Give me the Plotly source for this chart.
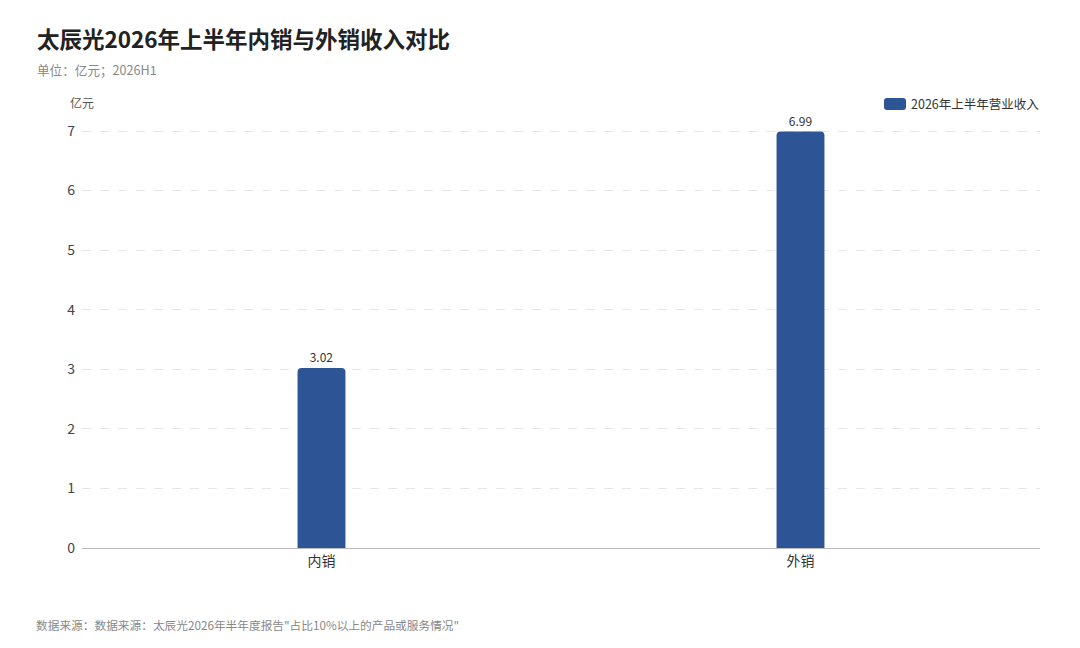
import plotly.graph_objects as go

categories = ["内销", "外销"]
revenue = [3.02, 6.99]
series_name = "2026年上半年营业收入"
y_ticks = [0, 1, 2, 3, 4, 5, 6, 7]

FONT = "Noto Sans CJK SC"
BAR_COLOR = "#2D5596"
GRID = "#e6e6e6"

# the page puts the figure 8px in from the top-left corner
PW, PH = 958, 417  # plot area in px

fig = go.Figure()
fig.add_trace(go.Bar(
    x=categories,
    y=revenue,
    name=series_name,
    marker=dict(color=BAR_COLOR, line=dict(width=0)),
    text=[f"{v:.2f}" for v in revenue],
    textposition="outside",
    textfont=dict(size=12, color="#333333"),
    cliponaxis=False,
    showlegend=False,
))

fig.update_layout(
    width=1080, height=648,
    margin=dict(l=74, r=48, t=123, b=108),
    paper_bgcolor="white", plot_bgcolor="white",
    font=dict(family=FONT, color="#333333"),
    bargap=0.9,
    barcornerradius=4,
    title=dict(
        text="<b>太辰光2026年上半年内销与外销收入对比</b>",
        x=29 / 1080, xanchor="left", y=1 - 32 / 648, yanchor="middle",
        font=dict(size=22.5, color="#222222", family=FONT),
    ),
)

fig.update_yaxes(
    range=[0, 7], tickvals=y_ticks,
    showgrid=True, gridcolor=GRID, griddash="dash", gridwidth=1,
    zeroline=False, showline=False,
    tickfont=dict(size=14, color="#444444"),
    ticks="", ticklabelstandoff=6,
)
fig.update_xaxes(
    showline=True, linecolor="#bbbbbb", linewidth=1,
    tickfont=dict(size=14, color="#333333"),
    ticks="",
)

# top gridline sits on the plot edge and gets clipped, so draw it on paper
fig.add_shape(type="line", xref="paper", yref="paper", x0=0, x1=1,
              y0=1 - 0.5 / PH, y1=1 - 0.5 / PH, layer="below",
              line=dict(color=GRID, width=1, dash="dash"))

# legend drawn by hand: wide rounded swatch + label
lx0, lx1 = (884 - 82) / PW, (906 - 82) / PW
ly0, ly1 = 1 + 21 / PH, 1 + 33 / PH
r = 3 / PW
ry = 3 / PH
path = (f"M {lx0 + r},{ly0} L {lx1 - r},{ly0} Q {lx1},{ly0} {lx1},{ly0 + ry} "
        f"L {lx1},{ly1 - ry} Q {lx1},{ly1} {lx1 - r},{ly1} "
        f"L {lx0 + r},{ly1} Q {lx0},{ly1} {lx0},{ly1 - ry} "
        f"L {lx0},{ly0 + ry} Q {lx0},{ly0} {lx0 + r},{ly0} Z")
fig.add_shape(type="path", path=path, xref="paper", yref="paper",
              fillcolor=BAR_COLOR, line=dict(width=0))
fig.add_annotation(
    text=series_name, xref="paper", yref="paper",
    x=(909 - 82) / PW, xanchor="left", y=1 + 27 / PH, yanchor="middle",
    showarrow=False, font=dict(size=12.5, color="#333333"),
)

fig.add_annotation(
    text="单位：亿元；2026H1", xref="paper", yref="paper",
    x=-47 / PW, xanchor="left", y=1 + 62 / PH, yanchor="middle",
    showarrow=False, font=dict(size=12.6, color="#888888"),
)
fig.add_annotation(
    text="亿元", xref="paper", yref="paper",
    x=-14 / PW, xanchor="left", y=1 + 28 / PH, yanchor="middle",
    showarrow=False, font=dict(size=12, color="#555555"),
)
fig.add_annotation(
    text='数据来源：数据来源：太辰光2026年半年度报告"占比10%以上的产品或服务情况"',
    xref="paper", yref="paper",
    x=-48 / PW, xanchor="left", y=-76 / PH, yanchor="middle",
    showarrow=False, font=dict(size=11.7, color="#888888"),
)

fig.write_html("out.html")
